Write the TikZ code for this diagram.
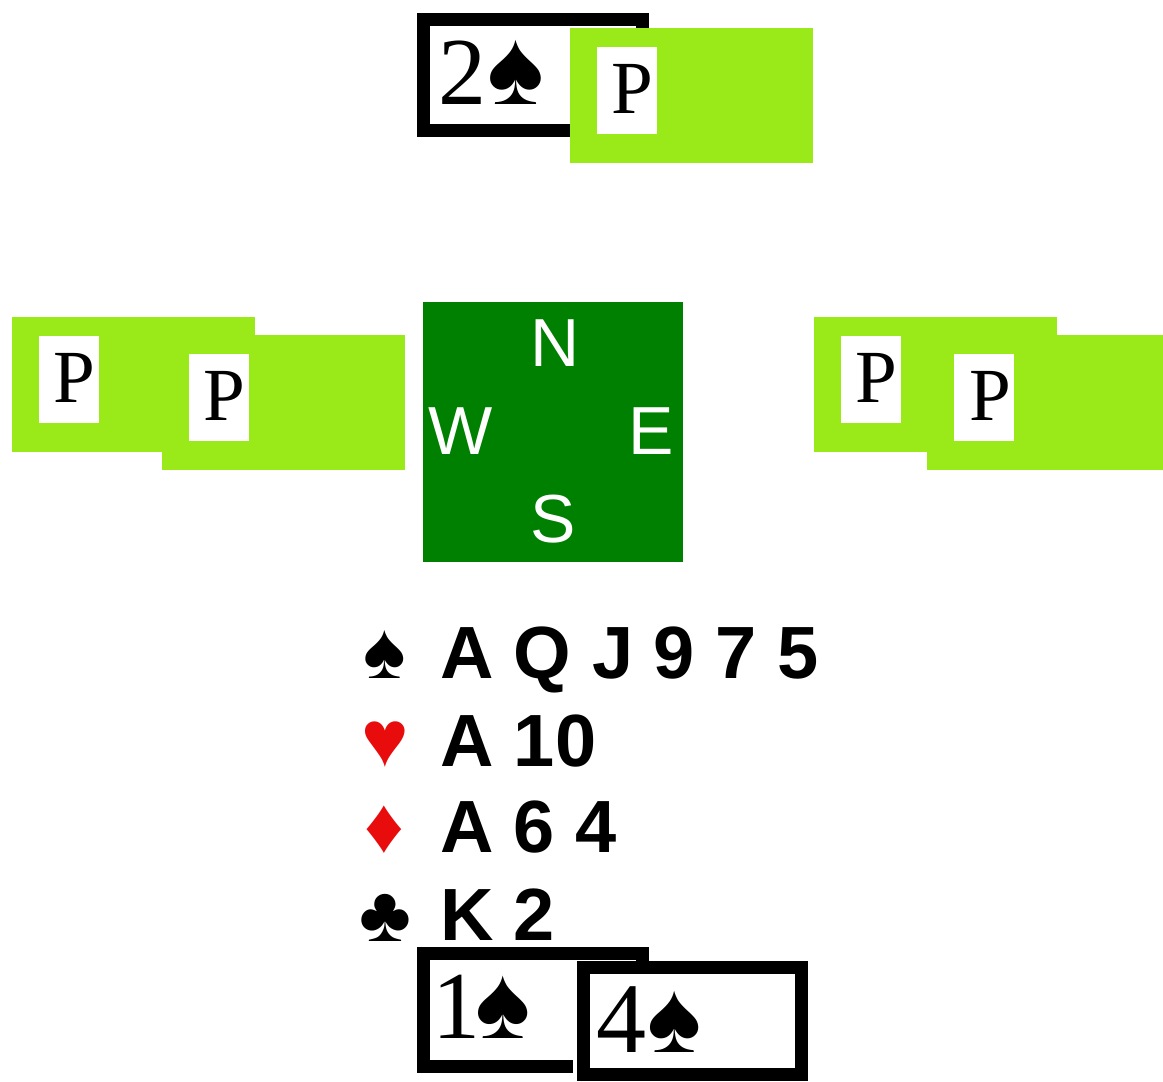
\documentclass[tikz,border=0pt]{standalone}
\usepackage{fontspec}
\setmainfont{Liberation Serif}
\newfontfamily\arialfont{Liberation Sans}
\newfontfamily\suitfont{Liberation Serif}
\newfontfamily\handsuitfont{Liberation Sans}
\definecolor{bidgreen}{RGB}{154,234,26}
\definecolor{tablegreen}{RGB}{0,128,0}
\definecolor{suitred}{RGB}{232,12,12}
% digit followed by a spade centred #2 pt after the digit's advance, at size #3
\newcommand\bidspade[3]{#1\rlap{\hbox to #2{\hss\suitfont\fontsize{#3}{#3}\selectfont ♠\hss}}}
\begin{document}
\begin{tikzpicture}[x=1pt,y=-1pt,
  glyph/.style={inner sep=0pt, outer sep=0pt, anchor=base},
  serifglyph/.style={glyph, font=\fontsize{#1}{#1}\selectfont},
  handsuit/.style={glyph, font=\handsuitfont\fontsize{#1}{#1}\selectfont},
  compassletter/.style={glyph, text=white, font=\arialfont\fontsize{68}{68}\selectfont},
  handtext/.style={inner sep=0pt, outer sep=0pt, anchor=base west, font=\arialfont\bfseries\fontsize{74}{74}\selectfont},
  bidframe/.style={rectangle, draw=black, line width=13pt, fill=white, inner sep=0pt},
  passcard/.style={rectangle, fill=bidgreen, inner sep=0pt, minimum width=243pt, minimum height=135pt},
  passtile/.style={rectangle, fill=white, inner sep=0pt, minimum width=60pt, minimum height=87pt},
]
\useasboundingbox (0,0) rectangle (1163,1082);
\fill[white] (0,0) rectangle (1163,1082);

% ---- North: 2S then Pass
\node[bidframe, minimum width=219pt, minimum height=111pt] (nbidframe) at (533,75) {};
\node[serifglyph=96] (nbid) at (462,104) {\bidspade{2}{59pt}{107}};
\node[passcard] (npasscard) at (691.5,95) {};
\node[passtile] (npasstile) at (627,90) {};
\node[serifglyph=75] (npass) at (632,113) {P};

% ---- West: two passes
\node[passcard] (wpasscardA) at (133.5,384.5) {};
\node[passtile] (wpasstileA) at (69,379.5) {};
\node[serifglyph=75] (wpassA) at (74.5,402) {P};
\node[passcard] (wpasscardB) at (283,402) {};
\node[passtile] (wpasstileB) at (218.5,397) {};
\node[serifglyph=75] (wpassB) at (224,420) {P};

% ---- East: two passes
\node[passcard] (epasscardA) at (935,384.5) {};
\node[passtile] (epasstileA) at (870.5,379.5) {};
\node[serifglyph=75] (epassA) at (876,402) {P};
\node[passcard, minimum width=236pt] (epasscardB) at (1045,402) {};
\node[passtile] (epasstileB) at (983.5,397) {};
\node[serifglyph=75] (epassB) at (990.5,420) {P};

% ---- Table
\node[rectangle, fill=tablegreen, minimum width=260pt, minimum height=260pt, inner sep=0pt] (table) at (553,432) {};
\node[compassletter] (north) at (555,366) {N};
\node[compassletter] (west) at (461,454) {W};
\node[compassletter] (east) at (651,454) {E};
\node[compassletter] (south) at (553,542) {S};

% ---- South hand
\node[handsuit=80] (handspade) at (384.5,678) {♠};
\node[handsuit=80, text=suitred] (handheart) at (385.5,766) {♥};
\node[handsuit=78, text=suitred] (handdiamond) at (384.5,852) {♦};
\node[handsuit=79] (handclub) at (385,941) {♣};
\node[handtext] (spades) at (440,678) {A Q J 9 7 5};
\node[handtext] (hearts) at (440,766) {A 10};
\node[handtext] (diamonds) at (440,852) {A 6 4};
\node[handtext] (clubs) at (440,940) {K 2};

% ---- South bids: 1S, 4S
\node[bidframe, minimum width=219pt, minimum height=113pt] (sbidframeA) at (533,1010) {};
\node[serifglyph=96] (sbidA) at (456,1038) {\bidspade{1}{46pt}{104}};
\node[rectangle, fill=white, inner sep=0pt, minimum width=235pt, minimum height=121pt] (sbidgap) at (690.5,1021.5) {};
\node[bidframe, minimum width=218pt, minimum height=107pt] (sbidframeB) at (692.5,1021) {};
\node[serifglyph=100] (sbidB) at (621,1052) {\bidspade{4}{58pt}{102}};
\end{tikzpicture}
\end{document}
